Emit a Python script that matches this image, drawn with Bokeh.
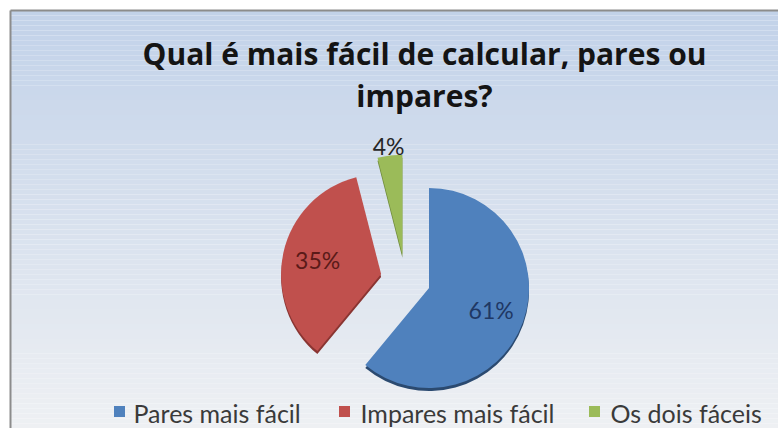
import numpy as np
from bokeh.plotting import figure
from bokeh.models import Range1d, ColumnDataSource
from bokeh.core.properties import value
from bokeh.embed import file_html
from bokeh.resources import INLINE

# ---------------- data ----------------
title_lines = ["Qual é mais fácil de calcular, pares ou", "impares?"]
categories = ["Pares mais fácil", "Impares mais fácil", "Os dois fáceis"]
percent = [61, 35, 4]
pct_labels = ["61%", "35%", "4%"]

# ---------------- styles ----------------
colors = ["#4f81bd", "#c0504d", "#9bbb59"]
rim_colors = ["#2b4a70", "#8a3532", "#6f8a3c"]
label_colors = ["#1f3864", "#5a1a18", "#262626"]

W, H = 778, 428
def Y(y):
    return H - y

p = figure(width=W, height=H, x_range=Range1d(0, W), y_range=Range1d(0, H),
           output_backend="svg", toolbar_location=None, min_border=0)
p.axis.visible = False
p.grid.visible = False
p.outline_line_color = None
p.background_fill_color = "white"
p.border_fill_color = "white"

# background gradient of the chart area
def mix(c1, c2, t):
    a = np.array([int(c1[i:i+2], 16) for i in (1, 3, 5)])
    b = np.array([int(c2[i:i+2], 16) for i in (1, 3, 5)])
    c = (a + (b - a) * t).round().astype(int)
    return "#%02x%02x%02x" % tuple(c)

n = 84
edges = np.linspace(10, 428, n + 1)
grad_cols = [mix("#c2d2e9", "#eef0f3", i / (n - 1)) for i in range(n)]
p.quad(left=10, right=778, top=[Y(e) for e in edges[:-1]], bottom=[Y(e) for e in edges[1:]],
       fill_color=grad_cols, line_color=None)
p.line([10, 778], [Y(10), Y(10)], line_color="#8c8c8c", line_width=2)
p.line([10, 10], [Y(10), 0], line_color="#8c8c8c", line_width=2)

# ---------------- pie ----------------
cx, cy, r, explode = 405, Y(279), 100, 25
vals = np.array(percent, dtype=float)
frac = vals / vals.sum()
cum = np.concatenate([[0], np.cumsum(frac)])
start = np.radians(90 - cum[:-1] * 360)
end = np.radians(90 - cum[1:] * 360)
mid = (start + end) / 2
wx = cx + explode * np.cos(mid)
wy = cy + explode * np.sin(mid)

src = ColumnDataSource(dict(x=wx, y=wy, ys=wy - 3, start=start, end=end,
                            color=colors, rim=rim_colors, cat=categories))
p.wedge(x="x", y="ys", radius=r, start_angle="start", end_angle="end", direction="clock",
        fill_color="rim", line_color=None, source=src)
p.wedge(x="x", y="y", radius=r, start_angle="start", end_angle="end", direction="clock",
        fill_color="color", line_color=None, source=src)

label_factor = np.array([0.66, 0.65, 1.10])
lx = wx + label_factor * r * np.cos(mid)
ly = wy + label_factor * r * np.sin(mid)
p.text(x=lx, y=ly, text=pct_labels, text_font=value("Lato"), text_font_size="23px",
       text_align="center", text_baseline="middle", text_color=label_colors)

# ---------------- title ----------------
p.text(x=[424, 424], y=[Y(53), Y(95)], text=title_lines, text_font=value("Open Sans"),
       text_font_size="30px", text_font_style="bold", text_align="center",
       text_baseline="middle", text_color="#141414")

# ---------------- legend ----------------
leg_sq_x = [119, 344, 594]
leg_tx_x = [133, 360, 610]
p.rect(x=leg_sq_x, y=Y(411), width=11, height=11, fill_color=colors, line_color=None)
p.text(x=leg_tx_x, y=Y(412), text=categories, text_font=value("Lato"), text_font_size="25px",
       text_align="left", text_baseline="middle", text_color="#3a3a3a")

open("out.html", "w").write(file_html(p, INLINE))
